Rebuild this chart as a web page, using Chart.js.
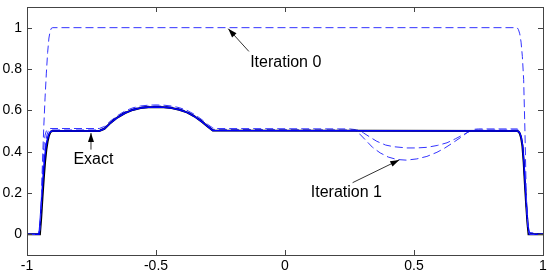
<!DOCTYPE html>
<html>
<head>
<meta charset="utf-8">
<script src="https://cdn.jsdelivr.net/npm/chart.js@4/dist/chart.umd.min.js"></script>
<style>
  html, body { margin: 0; padding: 0; background: #fff; }
  #wrap { width: 550px; height: 275px; }
</style>
</head>
<body>
<div id="wrap"><canvas id="chart"></canvas></div>
<script>
// exact solution
const exactX = [-1, -0.95, -0.945, -0.94, -0.935, -0.93, -0.925, -0.92, -0.915, -0.91, -0.905, -0.9,
  -0.72, -0.70, -0.68, -0.65, -0.62, -0.59, -0.56, -0.53, -0.50, -0.47, -0.44, -0.41, -0.38, -0.35, -0.32, -0.30, -0.28,
  0.9, 0.905, 0.91, 0.915, 0.92, 0.925, 0.93, 0.935, 0.94, 0.944, 1];
const exactY = [0, 0, 0.08, 0.18, 0.27, 0.35, 0.41, 0.45, 0.478, 0.492, 0.499, 0.5,
  0.5, 0.51, 0.535, 0.565, 0.587, 0.602, 0.611, 0.615, 0.616, 0.615, 0.611, 0.603, 0.59, 0.57, 0.543, 0.522, 0.503,
  0.5, 0.497, 0.488, 0.468, 0.43, 0.35, 0.24, 0.14, 0.05, 0, 0];

// last iteration (solid blue, under the exact curve)
const finalX = [-1, -0.953, -0.948, -0.943, -0.938, -0.933, -0.928, -0.923, -0.917, -0.912, -0.906, -0.9,
  -0.72, -0.70, -0.68, -0.65, -0.62, -0.59, -0.56, -0.53, -0.50, -0.47, -0.44, -0.41, -0.38, -0.35, -0.32, -0.30, -0.28,
  0.9, 0.906, 0.911, 0.916, 0.921, 0.926, 0.931, 0.936, 0.941, 0.947, 1];
const finalY = [0, 0, 0.08, 0.18, 0.27, 0.35, 0.41, 0.45, 0.478, 0.492, 0.499, 0.5,
  0.5, 0.51, 0.535, 0.565, 0.587, 0.602, 0.611, 0.615, 0.616, 0.615, 0.611, 0.603, 0.59, 0.57, 0.543, 0.522, 0.503,
  0.5, 0.497, 0.488, 0.468, 0.43, 0.35, 0.24, 0.14, 0.05, 0, 0];

// iteration 0
const iter0X = [-1, -0.96, -0.95, -0.945, -0.94, -0.935, -0.93, -0.925, -0.92, -0.915, -0.91, -0.905, -0.9,
  0.9, 0.905, 0.91, 0.915, 0.92, 0.925, 0.93, 0.935, 0.94, 0.945, 0.95, 1];
const iter0Y = [0, 0, 0.02, 0.15, 0.35, 0.52, 0.66, 0.78, 0.88, 0.95, 0.985, 0.998, 1,
  1, 0.99, 0.97, 0.93, 0.86, 0.75, 0.5, 0.2, 0.06, 0.01, 0, 0];

// iteration 1 (deep dip)
const iter1X = [-1, -0.955, -0.95, -0.945, -0.94, -0.935, -0.93, -0.925, -0.92, -0.91,
  -0.72, -0.70, -0.68, -0.65, -0.62, -0.59, -0.56, -0.53, -0.50, -0.47, -0.44, -0.41, -0.38, -0.35, -0.32, -0.30, -0.28, -0.27,
  0.25, 0.272, 0.29, 0.317, 0.34, 0.369, 0.40, 0.434, 0.47, 0.511, 0.55, 0.589, 0.62, 0.653, 0.68, 0.705, 0.72, 0.731, 0.75,
  0.9, 0.905, 0.91, 0.915, 0.92, 0.925, 0.93, 0.935, 0.94, 0.945, 1];
const iter1Y = [0, 0, 0.03, 0.12, 0.3, 0.42, 0.48, 0.5, 0.508, 0.512,
  0.512, 0.522, 0.545, 0.574, 0.597, 0.612, 0.621, 0.625, 0.626, 0.625, 0.621, 0.613, 0.6, 0.58, 0.553, 0.532, 0.515, 0.512,
  0.51, 0.507, 0.485, 0.45, 0.42, 0.394, 0.374, 0.362, 0.359, 0.365, 0.377, 0.397, 0.418, 0.445, 0.468, 0.491, 0.503, 0.508, 0.51,
  0.51, 0.505, 0.494, 0.472, 0.435, 0.36, 0.25, 0.15, 0.06, 0.01, 0];

// iteration 2 (shallow dip)
const iter2X = [-1, -0.953, -0.948, -0.943, -0.938, -0.933, -0.928, -0.923, -0.918, -0.91,
  -0.72, -0.70, -0.68, -0.65, -0.62, -0.59, -0.56, -0.53, -0.50, -0.47, -0.44, -0.41, -0.38, -0.35, -0.32, -0.30, -0.28,
  0.28, 0.304, 0.33, 0.356, 0.39, 0.421, 0.473, 0.51, 0.55, 0.59, 0.628, 0.66, 0.692, 0.725, 0.74,
  0.9, 0.905, 0.91, 0.915, 0.92, 0.925, 0.93, 0.935, 0.94, 0.945, 1];
const iter2Y = [0, 0, 0.06, 0.16, 0.28, 0.38, 0.44, 0.48, 0.498, 0.505,
  0.505, 0.515, 0.54, 0.57, 0.592, 0.607, 0.616, 0.62, 0.621, 0.62, 0.616, 0.608, 0.595, 0.575, 0.548, 0.527, 0.508,
  0.505, 0.491, 0.47, 0.45, 0.432, 0.424, 0.418, 0.418, 0.421, 0.43, 0.443, 0.462, 0.483, 0.504, 0.505,
  0.505, 0.5, 0.49, 0.47, 0.432, 0.355, 0.245, 0.145, 0.055, 0.005, 0];

const xTicks = [-1, -0.5, 0, 0.5, 1];
const yTicks = [0, 0.2, 0.4, 0.6, 0.8, 1];

// annotations: label, text position, arrow tail, arrow head (data units)
const notes = [
  { text: "Iteration 0", tx: -0.135, ty: 0.833, x0: -0.14, y0: 0.885, x1: -0.22, y1: 0.995 },
  { text: "Exact", tx: -0.82, ty: 0.361, x0: -0.752, y0: 0.41, x1: -0.752, y1: 0.49 },
  { text: "Iteration 1", tx: 0.1, ty: 0.2, x0: 0.262, y0: 0.25, x1: 0.443, y1: 0.36 },
];

const pts = (xs, ys) => xs.map((x, i) => ({ x: x, y: ys[i] }));

const dashBlue = "#3333ff";

const frameAndTicks = {
  id: "frameAndTicks",
  afterDraw(chart) {
    const { ctx, chartArea: a, scales } = chart;
    ctx.save();
    ctx.strokeStyle = "#444";
    ctx.lineWidth = 1;
    ctx.strokeRect(Math.round(a.left) + 0.5, Math.round(a.top) + 0.5,
      Math.round(a.right - a.left), Math.round(a.bottom - a.top));
    ctx.beginPath();
    xTicks.forEach((v) => {
      const px = Math.round(scales.x.getPixelForValue(v)) + 0.5;
      ctx.moveTo(px, a.bottom); ctx.lineTo(px, a.bottom - 5);
      ctx.moveTo(px, a.top); ctx.lineTo(px, a.top + 5);
    });
    yTicks.forEach((v) => {
      const py = Math.round(scales.y.getPixelForValue(v)) + 0.5;
      ctx.moveTo(a.left, py); ctx.lineTo(a.left + 5, py);
      ctx.moveTo(a.right, py); ctx.lineTo(a.right - 5, py);
    });
    ctx.stroke();

    ctx.font = "16px 'Liberation Sans', Arial, sans-serif";
    ctx.textBaseline = "middle";
    ctx.textAlign = "left";
    notes.forEach((n) => {
      ctx.fillStyle = "#000";
      ctx.fillText(n.text, scales.x.getPixelForValue(n.tx), scales.y.getPixelForValue(n.ty));
      const x0 = scales.x.getPixelForValue(n.x0), y0 = scales.y.getPixelForValue(n.y0);
      const x1 = scales.x.getPixelForValue(n.x1), y1 = scales.y.getPixelForValue(n.y1);
      const ang = Math.atan2(y1 - y0, x1 - x0);
      ctx.strokeStyle = "#333";
      ctx.beginPath();
      ctx.moveTo(x0, y0); ctx.lineTo(x1, y1);
      ctx.stroke();
      ctx.fillStyle = "#000";
      ctx.beginPath();
      ctx.moveTo(x1, y1);
      ctx.lineTo(x1 - 9 * Math.cos(ang) + 3 * Math.sin(ang), y1 - 9 * Math.sin(ang) - 3 * Math.cos(ang));
      ctx.lineTo(x1 - 9 * Math.cos(ang) - 3 * Math.sin(ang), y1 - 9 * Math.sin(ang) + 3 * Math.cos(ang));
      ctx.closePath();
      ctx.fill();
    });
    ctx.restore();
  },
};

const fmt = (v) => String(Math.round(v * 10) / 10);

new Chart(document.getElementById("chart"), {
  type: "scatter",
  data: {
    datasets: [
      { label: "Iteration 0", data: pts(iter0X, iter0Y), borderColor: dashBlue, borderWidth: 1, borderDash: [8, 4] },
      { label: "Final", data: pts(finalX, finalY), borderColor: "#0000ff", borderWidth: 1.5 },
      { label: "Exact", data: pts(exactX, exactY), borderColor: "#000", borderWidth: 2 },
      { label: "Iteration 2", data: pts(iter2X, iter2Y), borderColor: dashBlue, borderWidth: 1, borderDash: [8, 4] },
      { label: "Iteration 1", data: pts(iter1X, iter1Y), borderColor: dashBlue, borderWidth: 1, borderDash: [8, 4] },
    ].map((d) => ({ ...d, showLine: true, pointRadius: 0, tension: 0, fill: false })),
  },
  options: {
    animation: false,
    responsive: true,
    maintainAspectRatio: false,
    layout: { padding: { top: 7, right: 7, left: 0, bottom: 0 } },
    plugins: { legend: { display: false }, tooltip: { enabled: false } },
    scales: {
      x: {
        type: "linear",
        min: -1,
        max: 1,
        afterBuildTicks: (s) => { s.ticks = xTicks.map((v) => ({ value: v })); },
        afterFit: (s) => { s.height = 20; s.paddingLeft = 0; s.paddingRight = 0; },
        grid: { display: false, drawTicks: false },
        border: { display: false },
        ticks: { color: "#000", padding: 3, maxRotation: 0, font: { size: 14, family: "'Liberation Sans', Arial, sans-serif" }, callback: fmt },
      },
      y: {
        type: "linear",
        min: -0.1,
        max: 1.1,
        afterBuildTicks: (s) => { s.ticks = yTicks.map((v) => ({ value: v })); },
        afterFit: (s) => { s.width = 27; s.paddingTop = 0; s.paddingBottom = 0; },
        grid: { display: false, drawTicks: false },
        border: { display: false },
        ticks: { color: "#000", padding: 5, font: { size: 14, family: "'Liberation Sans', Arial, sans-serif" }, callback: fmt },
      },
    },
  },
  plugins: [frameAndTicks],
});
</script>
</body>
</html>
